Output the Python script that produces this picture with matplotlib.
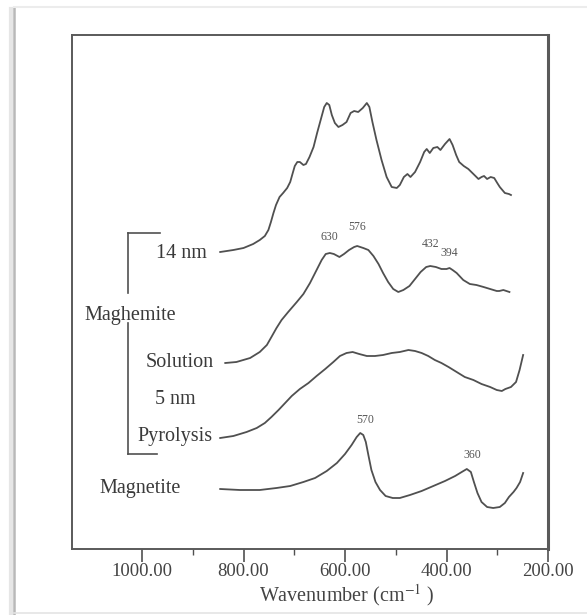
import matplotlib
matplotlib.use("Agg")
import matplotlib.pyplot as plt
from matplotlib.lines import Line2D

plt.rcParams['font.family'] = ['Liberation Serif', 'DejaVu Serif']
plt.rcParams['mathtext.fontset'] = 'stix'

# FTIR spectra, wavenumber (cm-1) vs. offset absorbance (a.u.)
mag14_wn = [846, 820, 800, 781, 768, 758, 751, 746, 741, 736, 729, 722, 714, 708, 703, 699,
            694, 689, 682, 677, 670, 662, 655, 648, 641, 636, 631, 626, 620, 613, 605, 597,
            589, 582, 574, 565, 557, 552, 546, 538, 528, 518, 508, 498, 492, 484, 477, 471,
            462, 452, 444, 439, 433, 426, 418, 412, 403, 394, 388, 381, 375, 366, 357, 347,
            337, 331, 326, 320, 313, 306, 300, 295, 285, 277, 273]
mag14_a = [2.97, 2.99, 3.01, 3.05, 3.09, 3.13, 3.19, 3.27, 3.36, 3.44, 3.52, 3.56, 3.61, 3.67,
           3.76, 3.83, 3.87, 3.87, 3.84, 3.85, 3.92, 4.02, 4.16, 4.29, 4.42, 4.46, 4.44, 4.34,
           4.26, 4.22, 4.24, 4.27, 4.36, 4.38, 4.37, 4.41, 4.46, 4.42, 4.27, 4.09, 3.89, 3.72,
           3.62, 3.61, 3.64, 3.72, 3.75, 3.72, 3.77, 3.87, 3.97, 4.00, 3.96, 4.01, 4.02, 3.99,
           4.05, 4.10, 4.04, 3.94, 3.87, 3.83, 3.80, 3.75, 3.70, 3.72, 3.73, 3.70, 3.72, 3.71,
           3.66, 3.62, 3.56, 3.55, 3.54]

solution_wn = [836, 814, 787, 768, 754, 745, 735, 725, 712, 695, 682, 669, 656, 646, 638, 630,
               622, 611, 602, 592, 582, 576, 564, 554, 544, 534, 525, 515, 505, 495, 485, 473,
               462, 451, 440, 432, 421, 410, 400, 394, 388, 380, 367, 354, 341, 327, 314, 301,
               296, 288, 282, 276]
solution_a = [1.86, 1.87, 1.91, 1.97, 2.04, 2.12, 2.21, 2.29, 2.37, 2.47, 2.55, 2.66, 2.79, 2.89,
              2.95, 2.96, 2.95, 2.92, 2.95, 2.99, 3.02, 3.03, 3.01, 2.99, 2.93, 2.85, 2.76, 2.67,
              2.60, 2.57, 2.59, 2.63, 2.70, 2.77, 2.82, 2.83, 2.82, 2.80, 2.80, 2.81, 2.79, 2.76,
              2.69, 2.65, 2.64, 2.62, 2.60, 2.58, 2.58, 2.59, 2.58, 2.57]

pyro_wn = [846, 820, 794, 774, 758, 745, 731, 718, 705, 689, 672, 656, 639, 623, 610, 597, 585,
           572, 557, 541, 525, 508, 492, 475, 462, 449, 436, 423, 410, 396, 380, 364, 347, 331,
           314, 301, 291, 284, 273, 263, 256, 249]
pyro_a = [1.11, 1.13, 1.17, 1.21, 1.26, 1.32, 1.39, 1.46, 1.53, 1.60, 1.66, 1.73, 1.80, 1.87,
          1.93, 1.96, 1.97, 1.95, 1.93, 1.93, 1.94, 1.96, 1.97, 1.99, 1.98, 1.96, 1.93, 1.89,
          1.86, 1.82, 1.77, 1.72, 1.69, 1.65, 1.62, 1.59, 1.58, 1.60, 1.62, 1.67, 1.79, 1.94]

magnetite_wn = [846, 807, 768, 735, 708, 682, 659, 636, 616, 600, 587, 577, 570, 564, 559, 554,
                548, 540, 531, 520, 506, 492, 472, 449, 426, 403, 383, 370, 360, 352, 346, 339,
                331, 320, 308, 295, 285, 277, 268, 262, 255, 249]
magnetite_a = [0.60, 0.59, 0.59, 0.61, 0.63, 0.67, 0.71, 0.78, 0.86, 0.95, 1.04, 1.12, 1.16,
               1.14, 1.07, 0.94, 0.79, 0.67, 0.59, 0.53, 0.51, 0.51, 0.54, 0.58, 0.63, 0.68,
               0.73, 0.77, 0.80, 0.77, 0.67, 0.56, 0.47, 0.42, 0.41, 0.42, 0.46, 0.52, 0.57,
               0.61, 0.67, 0.76]

solution_peaks = [630, 576, 432, 394]
magnetite_peaks = [570, 360]
tick_vals = [1000, 800, 600, 400, 200]

ink = '#505050'

fig = plt.figure(figsize=(5.87, 6.15), dpi=100)
ax = fig.add_axes([72 / 587, 66 / 615, 476 / 587, 514 / 615])

# pixel -> data helper for the labels around the spectra
def at(px, py):
    return 1000 - (px - 142) * 200 / 101.5, (549 - py) / 100

for wn, a in [(mag14_wn, mag14_a), (solution_wn, solution_a),
              (pyro_wn, pyro_a), (magnetite_wn, magnetite_a)]:
    ax.plot(wn, a, color=ink, lw=1.3, solid_joinstyle='round', antialiased=True)

ax.set_xlim(1138, 200)
ax.set_ylim(0, 5.14)
ax.set_xticks(tick_vals)
ax.set_xticklabels(['%.2f' % v for v in tick_vals])
ax.set_xticks([900, 700, 500, 300], minor=True)
ax.set_yticks([])
ax.tick_params(axis='x', which='major', direction='out', length=9, width=1.2,
               color=ink, labelsize=13.5, labelcolor='#444444', pad=1)
ax.tick_params(axis='x', which='minor', direction='out', length=4.5, width=1.0, color=ink)
for s in ax.spines.values():
    s.set_color('#5a5a5a')
    s.set_linewidth(1.4)
ax.spines['right'].set_linewidth(2.2)

fig.text(346.7 / 587, 1 - 595 / 615, 'Wavenumber (cm$^{-1}$ )', ha='center', va='center',
         fontsize=14.5, color='#444444')

# peak positions
for v, py in zip(solution_peaks, [236.7, 226.7, 244.3, 253.3]):
    ax.text(v, (549 - py) / 100, str(v), ha='center', va='center', fontsize=8.5, color='#555555')
for v, py in zip(magnetite_peaks, [420, 455]):
    ax.text(v - 10, (549 - py) / 100, str(v), ha='center', va='center', fontsize=8.5, color='#555555')

# sample labels
labels = [('14 nm', 181.7, 253.3), ('Maghemite', 130.5, 315.7), ('Solution', 179.3, 362.7),
          ('5 nm', 175, 400), ('Pyrolysis', 175, 436.7), ('Magnetite', 140.5, 488.3)]
for txt, px, py in labels:
    x, y = at(px, py)
    ax.text(x, y, txt, ha='center', va='center', fontsize=14.5, color='#3a3a3a')

# maghemite bracket
for seg in [[(128.3, 233.3), (160, 233.3)], [(128.3, 233.3), (128.3, 293.3)],
            [(128.3, 323.3), (128.3, 454)], [(128.3, 454), (157, 454)]]:
    (x0, y0), (x1, y1) = at(*seg[0]), at(*seg[1])
    ax.plot([x0, x1], [y0, y1], color=ink, lw=1.2, clip_on=False)

# page edge around the figure
W, H = 587, 615
def edge(xs, ys, **kw):
    fig.add_artist(Line2D([x / W for x in xs], [1 - y / H for y in ys],
                          transform=fig.transFigure, **kw))

edge([11, 11], [9, 615], color='#e6e6e6', lw=3)
edge([13.5, 13.5], [8, 615], color='#b8b8b8', lw=1.8)
edge([14, 587], [7, 7], color='#ececec', lw=1.5)
edge([14, 587], [612.5, 612.5], color='#e4e4e4', lw=1.2)

fig.savefig('out.png', dpi=100)
